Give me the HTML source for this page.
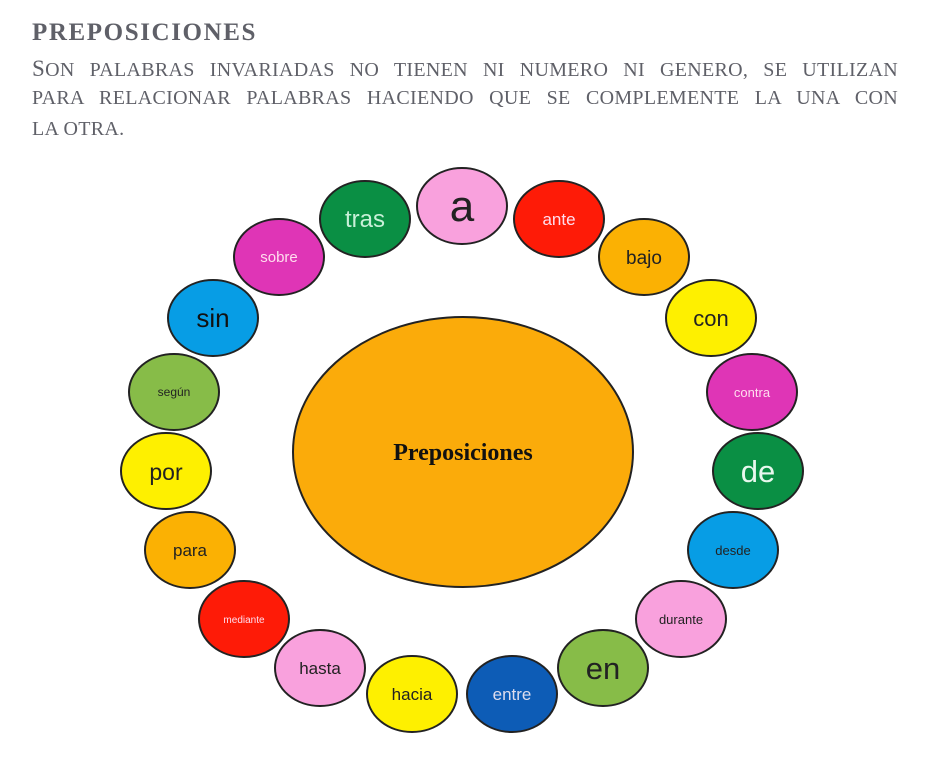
<!DOCTYPE html>
<html><head><meta charset="utf-8"><style>
html,body{margin:0;padding:0;background:#fff;width:932px;height:764px;overflow:hidden}
.t{position:absolute;left:32px;font-family:"Liberation Serif",serif;color:#5f6068;white-space:nowrap}
.j{position:absolute;left:32px;width:866px;font-family:"Liberation Serif",serif;color:#5f6068;font-size:20px;letter-spacing:0.3px;text-align:justify;text-align-last:justify;white-space:normal;height:26px;overflow:hidden}
</style></head><body>
<div class="t" style="top:19px;font-size:25px;font-weight:bold;letter-spacing:1.6px">PREPOSICIONES</div>
<div class="j" style="top:56px"><span style="font-size:23px">S</span>ON PALABRAS INVARIADAS NO TIENEN NI NUMERO NI GENERO, SE UTILIZAN</div>
<div class="j" style="top:87px">PARA RELACIONAR PALABRAS HACIENDO QUE SE COMPLEMENTE LA UNA CON</div>
<div class="t" style="top:118px;font-size:20px;letter-spacing:0.3px">LA OTRA.</div>
<svg width="932" height="764" style="position:absolute;left:0;top:0" font-family="Liberation Sans, sans-serif" text-anchor="middle">
<ellipse cx="463" cy="452" rx="170" ry="135" fill="#fbab0a" stroke="#222" stroke-width="2"/>
<text x="463" y="460" font-family="Liberation Serif, serif" font-weight="bold" font-size="24" fill="#111">Preposiciones</text>
<g stroke="#222" stroke-width="2">
<ellipse cx="462" cy="206" rx="45" ry="38" fill="#f9a1dd"/>
<ellipse cx="559" cy="219" rx="45" ry="38" fill="#fe1b07"/>
<ellipse cx="644" cy="257" rx="45" ry="38" fill="#fbb103"/>
<ellipse cx="711" cy="318" rx="45" ry="38" fill="#fef000"/>
<ellipse cx="752" cy="392" rx="45" ry="38" fill="#df35b6"/>
<ellipse cx="758" cy="471" rx="45" ry="38" fill="#0a8f44"/>
<ellipse cx="733" cy="550" rx="45" ry="38" fill="#079de5"/>
<ellipse cx="681" cy="619" rx="45" ry="38" fill="#f9a1dd"/>
<ellipse cx="603" cy="668" rx="45" ry="38" fill="#87bc48"/>
<ellipse cx="512" cy="694" rx="45" ry="38" fill="#0d5cb6"/>
<ellipse cx="412" cy="694" rx="45" ry="38" fill="#fef000"/>
<ellipse cx="320" cy="668" rx="45" ry="38" fill="#f9a1dd"/>
<ellipse cx="244" cy="619" rx="45" ry="38" fill="#fe1b07"/>
<ellipse cx="190" cy="550" rx="45" ry="38" fill="#fbb103"/>
<ellipse cx="166" cy="471" rx="45" ry="38" fill="#fef000"/>
<ellipse cx="174" cy="392" rx="45" ry="38" fill="#87bc48"/>
<ellipse cx="213" cy="318" rx="45" ry="38" fill="#079de5"/>
<ellipse cx="279" cy="257" rx="45" ry="38" fill="#df35b6"/>
<ellipse cx="365" cy="219" rx="45" ry="38" fill="#0a8f44"/>
</g>
<text x="462" y="221" font-size="44" fill="#222">a</text>
<text x="559" y="225" font-size="17" fill="#fde">ante</text>
<text x="644" y="264" font-size="19" fill="#222">bajo</text>
<text x="711" y="326" font-size="22" fill="#222">con</text>
<text x="752" y="397" font-size="13" fill="#fde">contra</text>
<text x="758" y="482" font-size="31" fill="#e8f8ee">de</text>
<text x="733" y="555" font-size="13" fill="#222">desde</text>
<text x="681" y="624" font-size="13" fill="#222">durante</text>
<text x="603" y="679" font-size="31" fill="#222">en</text>
<text x="512" y="700" font-size="17" fill="#dde">entre</text>
<text x="412" y="700" font-size="17" fill="#222">hacia</text>
<text x="320" y="674" font-size="17" fill="#222">hasta</text>
<text x="244" y="623" font-size="10" fill="#fde">mediante</text>
<text x="190" y="556" font-size="17" fill="#222">para</text>
<text x="166" y="480" font-size="23" fill="#222">por</text>
<text x="174" y="396" font-size="12" fill="#222">según</text>
<text x="213" y="327" font-size="26" fill="#111">sin</text>
<text x="279" y="262" font-size="15" fill="#fde">sobre</text>
<text x="365" y="227" font-size="24" fill="#c8f0d8">tras</text>
</svg>
</body></html>
